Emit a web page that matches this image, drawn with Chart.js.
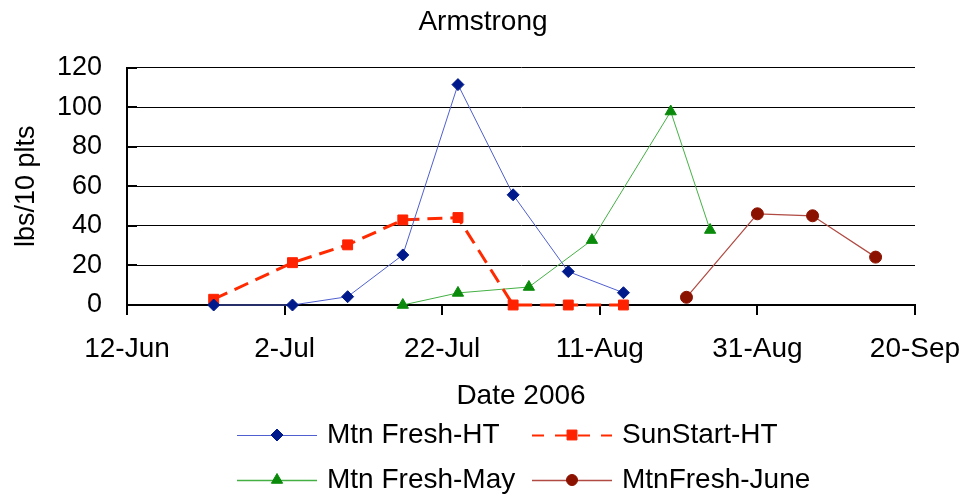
<!DOCTYPE html>
<html>
<head>
<meta charset="utf-8">
<script src="https://cdn.jsdelivr.net/npm/chart.js@4.4.0/dist/chart.umd.min.js"></script>
<style>
  html, body { margin: 0; padding: 0; background: #fff; }
  #wrap { width: 966px; height: 496px; }
</style>
</head>
<body>
<div id="wrap"><canvas id="chart" width="966" height="496"></canvas></div>
<script>
// Data
const tickLabels = ['12-Jun', '2-Jul', '22-Jul', '11-Aug', '31-Aug', '20-Sep'];
const startDate = '2006-06-12';

const datesHT = ['2006-06-23', '2006-07-03', '2006-07-10', '2006-07-17', '2006-07-24', '2006-07-31', '2006-08-07', '2006-08-14'];
const mtnFreshHT = [0, 0, 4.2, 25.3, 111.4, 55.7, 16.9, 6.2];
const sunStartHT = [2.9, 21.4, 30.4, 43, 44.2, 0, 0, 0];

const datesMay = ['2006-07-17', '2006-07-24', '2006-08-02', '2006-08-10', '2006-08-20', '2006-08-25'];
const mtnFreshMay = [0, 6.1, 9.1, 32.8, 97.8, 37.9];

const datesJune = ['2006-08-22', '2006-08-31', '2006-09-07', '2006-09-15'];
const mtnFreshJune = [3.9, 46.1, 45.1, 24.2];

const FONT = "'Liberation Sans', Arial, sans-serif";

// days since 12-Jun
function dayOf(d){
    return (Date.parse(d) - Date.parse(startDate)) / 86400000;
}
function points(dates, values){
    return dates.map((d, i) => ({x: dayOf(d), y: values[i]}));
}

// legend in two columns, line sample with marker in the middle
const gridLegend = {
    id: 'gridLegend',
    afterDraw(chart){
        const ctx = chart.ctx;
        const area = chart.chartArea;
        const yScale = chart.scales.y;
        ctx.save();

        // short inside ticks on the value axis
        ctx.strokeStyle = '#000';
        ctx.lineWidth = 2;
        yScale.ticks.forEach(t => {
            const py = Math.round(yScale.getPixelForValue(t.value));
            ctx.beginPath();
            ctx.moveTo(area.left, py);
            ctx.lineTo(area.left + 10, py);
            ctx.stroke();
        });

        const cols = [237, 532];
        const rows = [435, 480];
        ctx.font = '28px ' + FONT;
        ctx.textBaseline = 'middle';
        ctx.textAlign = 'left';
        chart.data.datasets.forEach((ds, i) => {
            const x0 = cols[i % 2];
            const y0 = rows[Math.floor(i / 2)];
            ctx.strokeStyle = ds.borderColor;
            ctx.lineWidth = ds.legendLineWidth || ds.borderWidth;
            ctx.setLineDash(ds.legendDash || []);
            ctx.beginPath();
            ctx.moveTo(x0, y0 + 0.5);
            ctx.lineTo(x0 + 80, y0 + 0.5);
            ctx.stroke();
            ctx.setLineDash([]);
            ctx.fillStyle = ds.pointBackgroundColor;
            ctx.strokeStyle = ds.pointBorderColor;
            ctx.lineWidth = 1;
            Chart.helpers.drawPoint(ctx, {
                pointStyle: ds.pointStyle,
                radius: ds.legendRadius,
                borderWidth: 1,
                rotation: 0
            }, x0 + 40, y0);
            ctx.fillStyle = '#000';
            ctx.fillText(ds.label, x0 + 90, y0);
        });
        ctx.restore();
    }
};

const ctx = document.getElementById('chart').getContext('2d');
const chart = new Chart(ctx, {
    type: 'line',
    data: {
        datasets: [
            {
                label: 'Mtn Fresh-HT',
                data: points(datesHT, mtnFreshHT),
                borderColor: '#4f5fd0',
                borderWidth: 1,
                pointStyle: 'rectRot',
                pointRadius: 6,
                legendRadius: 6,
                pointBackgroundColor: '#001a8c',
                pointBorderColor: '#001a8c',
                pointBorderWidth: 1
            },
            {
                label: 'SunStart-HT',
                data: points(datesHT, sunStartHT),
                borderColor: '#ff2a00',
                borderWidth: 3,
                borderDash: [15, 8],
                legendLineWidth: 2,
                legendDash: [12, 11],
                pointStyle: 'rect',
                pointRadius: 7,
                legendRadius: 7,
                pointBackgroundColor: '#ff2200',
                pointBorderColor: '#ff2200',
                pointBorderWidth: 1
            },
            {
                label: 'Mtn Fresh-May',
                data: points(datesMay, mtnFreshMay),
                borderColor: '#44b044',
                borderWidth: 1,
                legendLineWidth: 1.5,
                pointStyle: 'triangle',
                pointRadius: 6.5,
                legendRadius: 6.5,
                pointBackgroundColor: '#0a8a0a',
                pointBorderColor: '#0a8a0a',
                pointBorderWidth: 1
            },
            {
                label: 'MtnFresh-June',
                data: points(datesJune, mtnFreshJune),
                borderColor: '#b04a42',
                borderWidth: 1.2,
                legendLineWidth: 1.5,
                pointStyle: 'circle',
                pointRadius: 6,
                legendRadius: 5.5,
                pointBackgroundColor: '#8c1200',
                pointBorderColor: '#8c1200',
                pointBorderWidth: 1
            }
        ]
    },
    options: {
        responsive: false,
        animation: false,
        clip: false,
        layout: { padding: { left: 0, right: 0, top: 0, bottom: 80 } },
        elements: { line: { tension: 0, fill: false } },
        plugins: {
            legend: { display: false },
            tooltip: { enabled: false },
            title: {
                display: true,
                text: 'Armstrong',
                color: '#000',
                font: { family: FONT, size: 28, weight: 'normal' },
                padding: { top: 5, bottom: 29 }
            }
        },
        scales: {
            x: {
                type: 'linear',
                min: 0,
                max: 100,
                // keep the plot right edge at 915 without shifting the title
                afterFit: s => { s.height = 111; s.paddingLeft = 0; s.paddingRight = 51; },
                ticks: {
                    stepSize: 20,
                    color: '#000',
                    padding: 17,
                    maxRotation: 0,
                    font: { family: FONT, size: 28 },
                    callback: (v, i) => tickLabels[i]
                },
                grid: {
                    drawOnChartArea: false,
                    drawTicks: true,
                    tickLength: 10,
                    color: '#000',
                    lineWidth: 2
                },
                border: { color: '#000', width: 2 },
                title: {
                    display: true,
                    text: 'Date 2006',
                    color: '#000',
                    font: { family: FONT, size: 28 },
                    padding: { top: 0, bottom: 3 }
                }
            },
            y: {
                min: 0,
                max: 120,
                afterFit: s => { s.width = 127; },
                ticks: {
                    stepSize: 20,
                    color: '#000',
                    padding: 25,
                    font: { family: FONT, size: 27 }
                },
                grid: {
                    color: '#000',
                    lineWidth: 1,
                    drawTicks: false
                },
                border: { color: '#000', width: 2 },
                title: {
                    display: true,
                    text: 'lbs/10 plts',
                    color: '#000',
                    font: { family: FONT, size: 27 },
                    padding: { top: 10, bottom: 0 }
                }
            }
        }
    },
    plugins: [gridLegend]
});
</script>
</body>
</html>
